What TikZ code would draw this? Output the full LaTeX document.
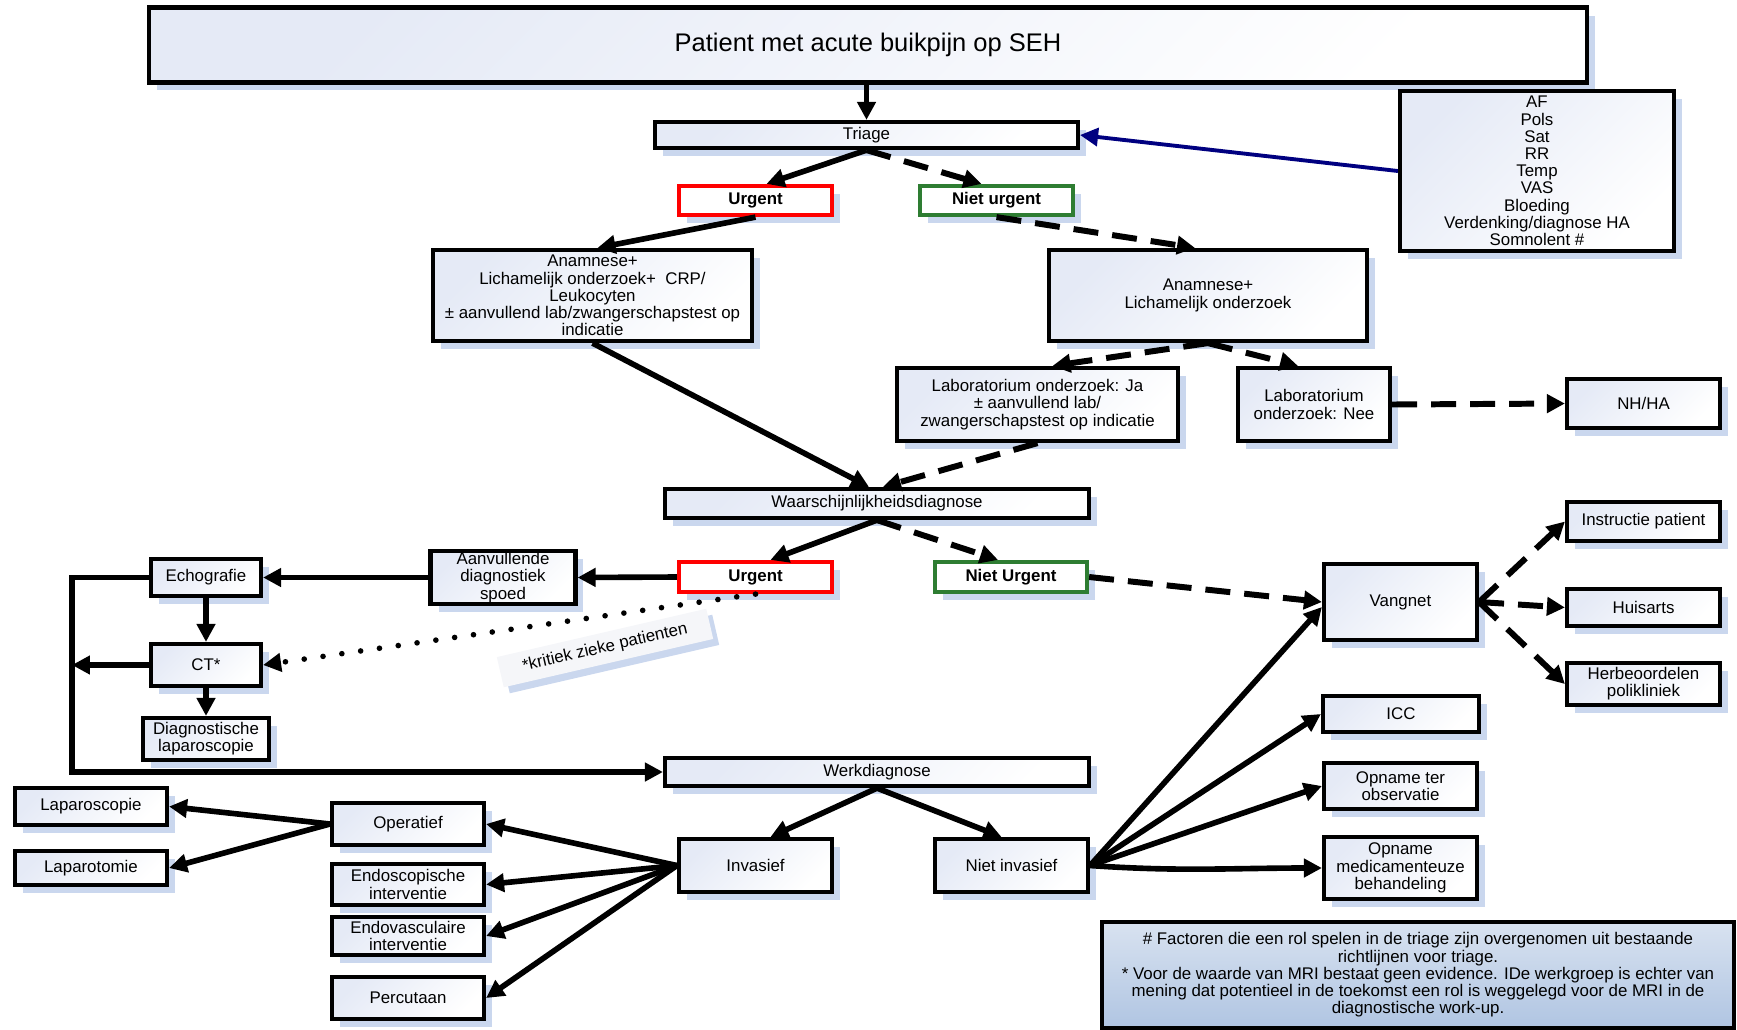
\documentclass[tikz,border=0pt]{standalone}
\usepackage{fontspec}
\setmainfont{Liberation Sans}
\usetikzlibrary{arrows.meta,positioning,shapes,calc,shadows}
\definecolor{boxtint}{RGB}{229,234,246}
\definecolor{shadeblue}{RGB}{202,215,238}
\definecolor{urgred}{RGB}{255,0,0}
\definecolor{okgreen}{RGB}{46,125,50}
\definecolor{navyline}{RGB}{0,0,128}
\definecolor{notetop}{RGB}{216,226,240}
\definecolor{notebot}{RGB}{176,197,226}

\begin{document}
\begin{tikzpicture}[x=0.02cm,y=-0.02cm,>={Triangle[length=0.36cm,width=0.36cm]},
  font=\fontsize{9.6}{9.8}\selectfont,
  box/.style={draw,line width=2.4pt,align=center,inner sep=0pt,
    top color=boxtint,bottom color=white,shading angle=45,
    drop shadow={fill=shadeblue,opacity=1,shadow xshift=0.16cm,shadow yshift=-0.16cm}},
  tag/.style={draw=#1,line width=2.4pt,fill=white,inner sep=0pt,
    minimum width=3.06cm,minimum height=0.58cm,font=\fontsize{9.6}{9.8}\selectfont\bfseries,
    drop shadow={fill=shadeblue,opacity=1,shadow xshift=0.16cm,shadow yshift=-0.16cm}},
  conn/.style={line width=3.2pt},
  dashconn/.style={line width=3.4pt,dash pattern=on 0.5cm off 0.28cm},
  dotconn/.style={line width=3.2pt,line cap=round,dash pattern=on 0pt off 0.38cm}]
  \useasboundingbox (0,0) rectangle (1737,1029);

  % Top part
  \node[box,minimum width=28.76cm,minimum height=1.5cm,font=\fontsize{14.5}{16}\selectfont] (title) at (868,45) {Patient met acute buikpijn op SEH};
  \node[box,minimum width=8.46cm,minimum height=0.52cm] (triage) at (866.5,135) {Triage};
  \node[tag=urgred] (urg1) at (755.5,200.5) {Urgent};
  \node[tag=okgreen] (nurg1) at (996.5,200.5) {Niet urgent};
  \node[box,minimum width=5.48cm,minimum height=3.2cm] (vitals) at (1537,171)
    {AF\\Pols\\Sat\\RR\\Temp\\VAS\\Bloeding\\Verdenking/diagnose HA\\Somnolent \#};
  \node[box,minimum width=6.38cm,minimum height=1.82cm] (anam1) at (592.5,295.5)
    {Anamnese+\\Lichamelijk onderzoek+\ \ CRP/\\Leukocyten\\± aanvullend lab/zwangerschapstest op\\indicatie};
  \node[box,minimum width=6.36cm,minimum height=1.82cm] (anam2) at (1208,295.5) {Anamnese+\\Lichamelijk onderzoek};
  \node[box,minimum width=5.62cm,minimum height=1.46cm] (labja) at (1037.5,404.5)
    {Laboratorium onderzoek: Ja\\± aanvullend lab/\\zwangerschapstest op indicatie};
  \node[box,minimum width=3.04cm,minimum height=1.46cm] (labnee) at (1314,404.5) {Laboratorium\\onderzoek: Nee};
  \node[box,minimum width=3.06cm,minimum height=0.98cm] (nhha) at (1643.5,403.5) {NH/HA};
  \node[box,minimum width=8.48cm,minimum height=0.58cm] (waarsch) at (877,503.5) {Waarschijnlijkheidsdiagnose};

  % Middle part
  \node[tag=urgred,minimum height=0.6cm] (urg2) at (755.5,577) {Urgent};
  \node[tag=okgreen,minimum width=3.04cm,minimum height=0.6cm] (nurg2) at (1011,577) {Niet Urgent};
  \node[box,minimum width=2.9cm,minimum height=1.06cm] (aanv) at (503,577.5) {Aanvullende\\diagnostiek\\spoed};
  \node[box,minimum width=2.2cm,minimum height=0.74cm] (echo) at (206,577.5) {Echografie};
  \node[box,minimum width=2.2cm,minimum height=0.84cm] (ct) at (206,665) {CT*};
  \node[box,minimum width=2.52cm,minimum height=0.84cm] (dlap) at (206,739) {Diagnostische\\laparoscopie};
  \node[rotate=13,fill={rgb,255:red,245;green,246;blue,249},inner sep=0pt,minimum width=4.3cm,minimum height=0.62cm,
    drop shadow={fill=shadeblue,opacity=1,shadow xshift=0.12cm,shadow yshift=-0.12cm}] (kritiek) at (605,648) {*kritiek zieke patienten};
  \node[box,minimum width=8.48cm,minimum height=0.56cm] (werk) at (877,772) {Werkdiagnose};
  \node[box,minimum width=3.06cm,minimum height=1.52cm] (vangnet) at (1400.5,602) {Vangnet};
  \node[box,minimum width=3.06cm,minimum height=0.78cm] (instr) at (1643.5,521.5) {Instructie patient};
  \node[box,minimum width=3.06cm,minimum height=0.74cm] (huis) at (1643.5,607.5) {Huisarts};
  \node[box,minimum width=3.06cm,minimum height=0.84cm] (herb) at (1643.5,684) {Herbeoordelen\\polikliniek};

  % Bottom part
  \node[box,minimum width=3.04cm,minimum height=0.74cm] (lapscop) at (91,806.5) {Laparoscopie};
  \node[box,minimum width=3.04cm,minimum height=0.68cm] (laptom) at (91,868) {Laparotomie};
  \node[box,minimum width=3.04cm,minimum height=0.84cm] (operatief) at (408,824) {Operatief};
  \node[box,minimum width=3.04cm,minimum height=0.82cm] (endosc) at (408,884.5) {Endoscopische\\interventie};
  \node[box,minimum width=3.04cm,minimum height=0.76cm] (endovasc) at (408,936) {Endovasculaire\\interventie};
  \node[box,minimum width=3.04cm,minimum height=0.84cm] (percut) at (408,998) {Percutaan};
  \node[box,minimum width=3.06cm,minimum height=1.06cm] (invasief) at (755.5,865.5) {Invasief};
  \node[box,minimum width=3.06cm,minimum height=1.06cm] (nietinv) at (1011.5,865.5) {Niet invasief};
  \node[box,minimum width=3.12cm,minimum height=0.72cm] (icc) at (1401,714) {ICC};
  \node[box,minimum width=3.06cm,minimum height=0.92cm] (obs) at (1400.5,786) {Opname ter\\observatie};
  \node[box,minimum width=3.06cm,minimum height=1.24cm] (med) at (1400.5,868) {Opname\\medicamenteuze\\behandeling};
  \node[draw,line width=2.4pt,align=center,inner sep=0pt,top color=notetop,bottom color=notebot,
    minimum width=12.64cm,minimum height=2.12cm] (foot) at (1418,975)
    {\# Factoren die een rol spelen in de triage zijn overgenomen uit bestaande\\richtlijnen voor triage.\\
     * Voor de waarde van MRI bestaat geen evidence. IDe werkgroep is echter van\\
     mening dat potentieel in de toekomst een rol is weggelegd voor de MRI in de\\diagnostische work-up.};

  \coordinate (bendA) at (72,577.5);

  % Connectors
  \draw[conn,->] (title.south -| triage) -- (triage.north);
  \draw[conn,->] (triage.south) -- ([xshift=0.22cm]urg1.north);
  \draw[dashconn,->] (triage.south) -- ([xshift=-0.3cm]nurg1.north);
  \draw[line width=2.2pt,navyline,->] (vitals.west) -- (triage.east);
  \draw[conn,->] (urg1.south) -- ([xshift=0.1cm]anam1.north);
  \draw[dashconn,->] (nurg1.south) -- ([xshift=-0.26cm]anam2.north);
  \draw[dashconn,->] (anam2.south) -- ([xshift=0.3cm]labja.north);
  \draw[dashconn,->] (anam2.south) -- ([xshift=-0.32cm]labnee.north);
  \draw[dashconn,->] (labnee.east) -- (nhha.west);
  \draw[conn,->] (anam1.south) -- ([xshift=-0.16cm]waarsch.north);
  \draw[dashconn,->] (labja.south) -- ([xshift=0.12cm]waarsch.north);
  \draw[conn,->] (waarsch.south) -- ([xshift=0.3cm]urg2.north);
  \draw[dashconn,->] (waarsch.south) -- ([xshift=-0.26cm]nurg2.north);
  \draw[conn,->] (urg2.west) -- (aanv.east);
  \draw[conn,->] (aanv.west) -- (echo.east);
  \draw[conn,->] (echo.south) -- (ct.north);
  \draw[conn,->] (ct.south) -- (dlap.north);
  \draw[conn,->] (echo.west) -- (bendA) |- (werk.west);
  \draw[conn,->] (ct.west) -- (ct.west -| bendA);
  \draw[dotconn,->] (urg2.south) -- (ct.east);
  \draw[dashconn,->] (nurg2.east) -- (vangnet.west);
  \draw[dashconn,->] (vangnet.east) -- (instr.west);
  \draw[dashconn,->] (vangnet.east) -- (huis.west);
  \draw[dashconn,->] (vangnet.east) -- (herb.west);
  \draw[conn,->] (werk.south) -- ([xshift=0.3cm]invasief.north);
  \draw[conn,->] (werk.south) -- ([xshift=-0.2cm]nietinv.north);
  \draw[conn,->] (invasief.west) -- (operatief.east);
  \draw[conn,->] (invasief.west) -- (endosc.east);
  \draw[conn,->] (invasief.west) -- (endovasc.east);
  \draw[conn,->] (invasief.west) -- (percut.east);
  \draw[conn,->] (operatief.west) -- (lapscop.east);
  \draw[conn,->] (operatief.west) -- (laptom.east);
  \draw[conn,->] (nietinv.east) -- ([yshift=-0.1cm]vangnet.west);
  \draw[conn,->] (nietinv.east) -- (icc.west);
  \draw[conn,->] (nietinv.east) -- (obs.west);
  \draw[conn,->] (nietinv.east) to[out=-4,in=180] (med.west);
\end{tikzpicture}
\end{document}
